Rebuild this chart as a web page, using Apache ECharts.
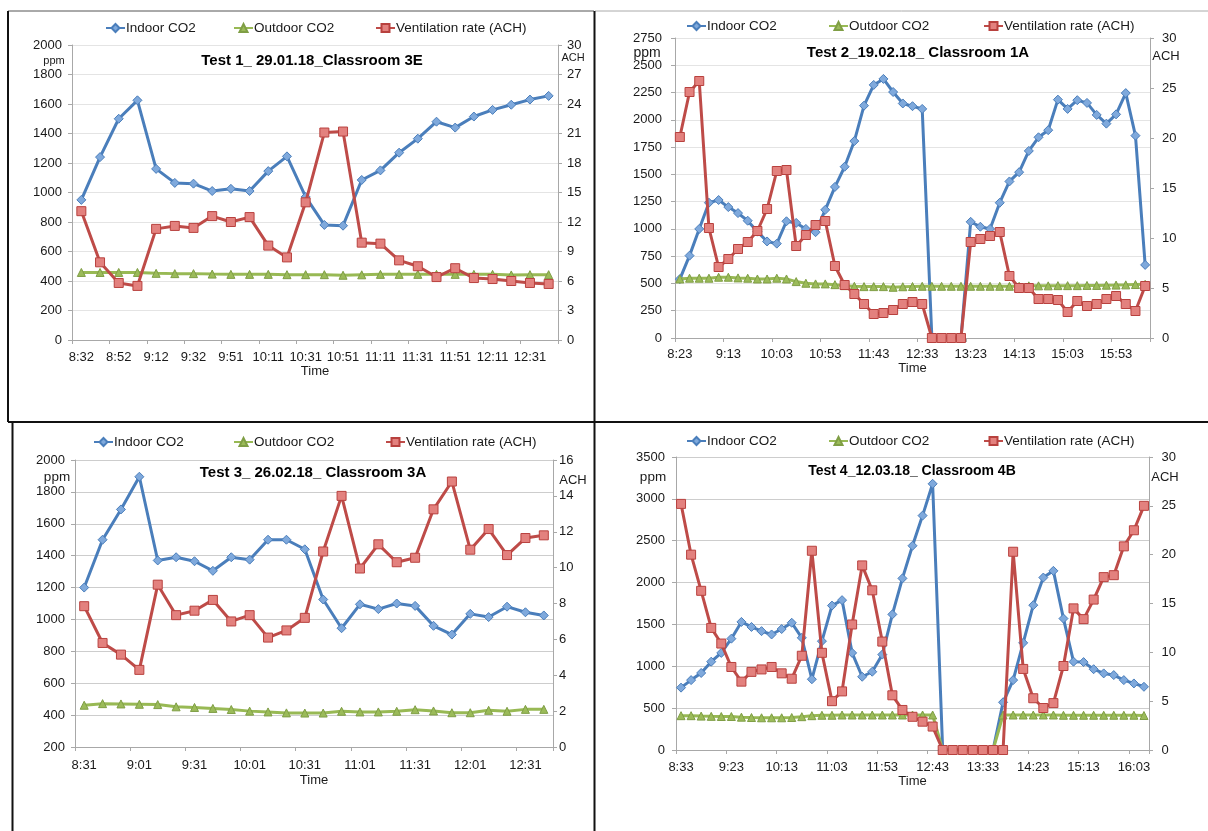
<!DOCTYPE html>
<html>
<head>
<meta charset="utf-8">
<script src="https://cdn.jsdelivr.net/npm/echarts@6/dist/echarts.min.js"></script>
<style>
html,body{margin:0;padding:0;background:#fff;}
#chart{width:1208px;height:831px;}
</style>
</head>
<body>
<div id="chart"></div>
<script>
// ---------- Test 1 ----------
const t1Times = ['8:32','8:42','8:52','9:02','9:12','9:22','9:32','9:42','9:51','10:01','10:11','10:21','10:31','10:41','10:51','11:01','11:11','11:21','11:31','11:41','11:51','12:01','12:11','12:21','12:31','12:41'];
const t1Indoor = [950,1240,1500,1625,1160,1065,1060,1010,1025,1010,1145,1245,970,780,775,1085,1150,1270,1365,1480,1440,1515,1560,1595,1630,1655];
const t1Outdoor = [458,458,458,458,452,450,450,447,445,445,445,443,443,443,439,442,445,445,445,445,445,445,445,441,443,443];
const t1Vent = [13.1,7.9,5.8,5.5,11.3,11.6,11.4,12.6,12.0,12.5,9.6,8.4,14.0,21.1,21.2,9.9,9.8,8.1,7.5,6.4,7.3,6.3,6.2,6.0,5.8,5.7];

// ---------- Test 2 ----------
const t2Times = ['8:23','8:33','8:43','8:53','9:03','9:13','9:23','9:33','9:43','9:53','10:03','10:13','10:23','10:33','10:43','10:53','11:03','11:13','11:23','11:33','11:43','11:53','12:03','12:13','12:23','12:33','12:43','12:53','13:03','13:13','13:23','13:33','13:43','13:53','14:03','14:13','14:23','14:33','14:43','14:53','15:03','15:13','15:23','15:33','15:43','15:53','16:03','16:13','16:23'];
const t2Indoor = [540,755,1000,1240,1265,1200,1145,1075,975,885,865,1070,1055,1000,970,1175,1385,1570,1805,2130,2320,2375,2255,2150,2125,2100,0,0,0,0,1065,1020,1000,1240,1435,1520,1715,1840,1905,2185,2100,2180,2155,2045,1965,2050,2245,1855,670];
const t2Outdoor = [541,548,548,548,557,557,551,548,541,541,548,541,517,502,496,496,489,480,474,471,471,471,465,470,472,474,474,474,474,474,474,474,474,474,474,474,478,478,478,480,480,480,482,482,484,485,487,490,492];
const t2Vent = [20.1,24.6,25.7,11.0,7.1,7.9,8.9,9.6,10.7,12.9,16.7,16.8,9.2,10.3,11.3,11.7,7.2,5.3,4.4,3.4,2.4,2.5,2.8,3.4,3.6,3.4,0,0,0,0,9.6,9.9,10.2,10.6,6.2,5.0,5.0,3.9,3.9,3.8,2.6,3.7,3.2,3.4,3.9,4.2,3.4,2.7,5.2];

// ---------- Test 3 ----------
const t3Times = ['8:31','8:41','8:51','9:01','9:11','9:21','9:31','9:41','9:51','10:01','10:11','10:21','10:31','10:41','10:51','11:01','11:11','11:21','11:31','11:41','11:51','12:01','12:11','12:21','12:31','12:41'];
const t3Indoor = [1200,1500,1690,1895,1370,1390,1365,1305,1390,1375,1500,1500,1440,1125,945,1095,1065,1100,1085,960,905,1035,1015,1080,1045,1025];
const t3Outdoor = [462,472,470,468,466,452,448,442,435,425,420,414,413,413,424,420,420,424,434,426,415,415,430,424,436,436];
const t3Vent = [7.85,5.8,5.15,4.3,9.05,7.35,7.6,8.2,7.0,7.35,6.1,6.5,7.2,10.9,14.0,9.95,11.3,10.3,10.55,13.25,14.8,11.0,12.15,10.7,11.65,11.8];

// ---------- Test 4 ----------
const t4Times = ['8:33','8:43','8:53','9:03','9:13','9:23','9:33','9:43','9:53','10:03','10:13','10:23','10:33','10:43','10:53','11:03','11:13','11:23','11:33','11:43','11:53','12:03','12:13','12:23','12:33','12:43','12:53','13:03','13:13','13:23','13:33','13:43','13:53','14:03','14:13','14:23','14:33','14:43','14:53','15:03','15:13','15:23','15:33','15:43','15:53','16:03','16:13'];
const t4Indoor = [745,835,920,1055,1160,1330,1530,1470,1420,1380,1445,1520,1340,845,1300,1725,1790,1160,875,935,1140,1620,2050,2440,2800,3180,0,0,0,0,0,0,570,835,1280,1730,2060,2140,1570,1055,1050,965,915,895,835,795,755];
const t4Outdoor = [410,410,405,402,400,400,392,388,385,385,385,388,398,410,415,415,418,418,418,418,418,418,418,418,418,418,0,0,0,0,0,0,418,418,418,418,418,418,415,415,415,415,415,415,415,415,412];
const t4Vent = [25.2,20.0,16.3,12.5,10.9,8.5,7.0,8.0,8.25,8.5,7.85,7.3,9.65,20.4,9.95,5.0,6.0,12.85,18.9,16.35,11.1,5.6,4.1,3.4,2.9,2.4,0,0,0,0,0,0,0,20.3,8.3,5.3,4.3,4.8,8.6,14.5,13.4,15.4,17.7,17.9,20.85,22.5,25.0];

const titles = ['Test 1_ 29.01.18_Classroom 3E','Test 2_19.02.18_ Classroom 1A','Test 3_ 26.02.18_ Classroom 3A','Test 4_12.03.18_ Classroom 4B'];
const seriesNames = ['Indoor CO2','Outdoor CO2','Ventilation rate (ACH)'];
const leftUnit = 'ppm';
const rightUnit = 'ACH';
const xName = 'Time';

// ---------- layout / style ----------
const FONT = '"Liberation Sans", Arial, Helvetica, sans-serif';
const TXT = '#1a1a1a';
const AXIS = '#a8a8a8';

const panels = [
  {times:t1Times, indoor:t1Indoor, outdoor:t1Outdoor, vent:t1Vent,
   grid:{left:72, top:45, width:486, height:295}, lblInt:1,
   yl:{min:0,max:2000,interval:200}, yr:{min:0,max:30,interval:3},
   title:[312,61,15], ppm:[54,61,11], ach:[573,58,11],
   legY:29, legX:[105,233,375], split:'#e4e4e4',
   xMargin:11, nameGap:25, ylMargin:10, yrMargin:9},
  {times:t2Times, indoor:t2Indoor, outdoor:t2Outdoor, vent:t2Vent,
   grid:{left:675, top:38, width:475, height:300}, lblInt:4,
   yl:{min:0,max:2750,interval:250}, yr:{min:0,max:30,interval:5},
   title:[918,53,15], ppm:[647,53,14], ach:[1166,56,13],
   legY:27, legX:[686,828,983], split:'#e4e4e4',
   xMargin:10, nameGap:22, ylMargin:13, yrMargin:12},
  {times:t3Times, indoor:t3Indoor, outdoor:t3Outdoor, vent:t3Vent,
   grid:{left:75, top:460, width:478, height:287}, lblInt:2,
   yl:{min:200,max:2000,interval:200}, yr:{min:0,max:16,interval:2},
   title:[313,473,15], ppm:[57,477,13.5], ach:[573,480,13],
   legY:443, legX:[93,233,385], split:'#cdcdcd',
   xMargin:12, nameGap:27, ylMargin:10, yrMargin:6},
  {times:t4Times, indoor:t4Indoor, outdoor:t4Outdoor, vent:t4Vent,
   grid:{left:676, top:457, width:473, height:293}, lblInt:4,
   yl:{min:0,max:3500,interval:500}, yr:{min:0,max:30,interval:5},
   title:[912,471,14], ppm:[653,477,13.5], ach:[1165,477,13],
   legY:442, legX:[686,828,983], split:'#cdcdcd',
   xMargin:11, nameGap:23.5, ylMargin:11, yrMargin:12.5}
];

const seriesStyles = [
  {symbol:'diamond', symbolSize:9, line:'#4A7EBB', fill:'#7FA9DC', border:'#4A7EBB'},
  {symbol:'triangle', symbolSize:8, line:'#98B954', fill:'#9BBB59', border:'#7F9E45'},
  {symbol:'rect', symbolSize:9, line:'#BE4B48', fill:'#E3817E', border:'#B8413E'}
];

const plainNum = v => String(v);
const grid = [], xAxis = [], yAxis = [], series = [], legend = [], graphic = [];

panels.forEach((p, i) => {
  grid.push(Object.assign({containLabel:false}, p.grid));
  xAxis.push({
    type:'category', gridIndex:i, data:p.times, boundaryGap:true,
    axisLine:{show:true, lineStyle:{color:AXIS, width:1}},
    axisTick:{show:true, interval:p.lblInt, length:4, lineStyle:{color:AXIS}},
    axisLabel:{interval:p.lblInt, margin:p.xMargin, fontSize:13, color:TXT, fontFamily:FONT},
    splitLine:{show:false},
    name:xName, nameLocation:'middle', nameGap:p.nameGap,
    nameTextStyle:{fontSize:13, color:TXT, fontFamily:FONT}
  });
  yAxis.push({
    type:'value', gridIndex:i, position:'left', min:p.yl.min, max:p.yl.max, interval:p.yl.interval,
    axisLine:{show:true, lineStyle:{color:AXIS}},
    axisTick:{show:true, length:4, lineStyle:{color:AXIS}},
    axisLabel:{margin:p.ylMargin, fontSize:13, color:TXT, fontFamily:FONT, formatter:plainNum},
    splitLine:{show:true, lineStyle:{color:p.split, width:1}}
  });
  yAxis.push({
    type:'value', gridIndex:i, position:'right', min:p.yr.min, max:p.yr.max, interval:p.yr.interval,
    axisLine:{show:true, lineStyle:{color:AXIS}},
    axisTick:{show:true, length:4, lineStyle:{color:AXIS}},
    axisLabel:{margin:p.yrMargin, fontSize:13, color:TXT, fontFamily:FONT, formatter:plainNum},
    splitLine:{show:false}
  });
  const dataSets = [p.indoor, p.outdoor, p.vent];
  dataSets.forEach((d, k) => {
    const st = seriesStyles[k];
    series.push({
      type:'line', name:seriesNames[k], xAxisIndex:i, yAxisIndex:(k === 2 ? 2*i+1 : 2*i),
      data:d, symbol:st.symbol, symbolSize:st.symbolSize, showAllSymbol:true,
      lineStyle:{color:st.line, width:3},
      itemStyle:{color:st.fill, borderColor:st.border, borderWidth:1},
      emphasis:{disabled:true}, animation:false, z:2+k
    });
    legend.push({
      left:p.legX[k], top:p.legY - 8, padding:0, itemWidth:19, itemHeight:10, itemGap:0,
      selectedMode:false, data:[seriesNames[k]],
      textStyle:{fontSize:13.5, color:TXT, fontFamily:FONT, padding:[0,0,0,-4]}
    });
  });
  graphic.push({type:'text', silent:true, style:{text:titles[i], x:p.title[0], y:p.title[1],
    textAlign:'center', textVerticalAlign:'middle', align:'center', verticalAlign:'middle',
    fill:'#000', font:'bold ' + p.title[2] + 'px ' + FONT}});
  graphic.push({type:'text', silent:true, style:{text:leftUnit, x:p.ppm[0], y:p.ppm[1],
    textAlign:'center', textVerticalAlign:'middle', align:'center', verticalAlign:'middle',
    fill:TXT, font:p.ppm[2] + 'px ' + FONT}});
  graphic.push({type:'text', silent:true, style:{text:rightUnit, x:p.ach[0], y:p.ach[1],
    textAlign:'center', textVerticalAlign:'middle', align:'center', verticalAlign:'middle',
    fill:TXT, font:p.ach[2] + 'px ' + FONT}});
});

// frame lines around the panels
const frames = [
  {x1:8, y1:11, x2:594, y2:11, c:'#555', w:1},
  {x1:595, y1:11, x2:1208, y2:11, c:'#aaa', w:1},
  {x1:8, y1:11, x2:8, y2:422, c:'#111', w:2},
  {x1:594.5, y1:11, x2:594.5, y2:831, c:'#111', w:2},
  {x1:8, y1:422, x2:1208, y2:422, c:'#111', w:2},
  {x1:12.5, y1:422, x2:12.5, y2:831, c:'#111', w:2}
];
frames.forEach(f => graphic.push({type:'line', silent:true, z:100,
  shape:{x1:f.x1, y1:f.y1, x2:f.x2, y2:f.y2}, style:{stroke:f.c, lineWidth:f.w}}));

const chart = echarts.init(document.getElementById('chart'), null, {renderer:'canvas'});
chart.setOption({
  animation:false,
  backgroundColor:'#fff',
  textStyle:{fontFamily:FONT},
  grid, xAxis, yAxis, series, legend, graphic
});
</script>
</body>
</html>
